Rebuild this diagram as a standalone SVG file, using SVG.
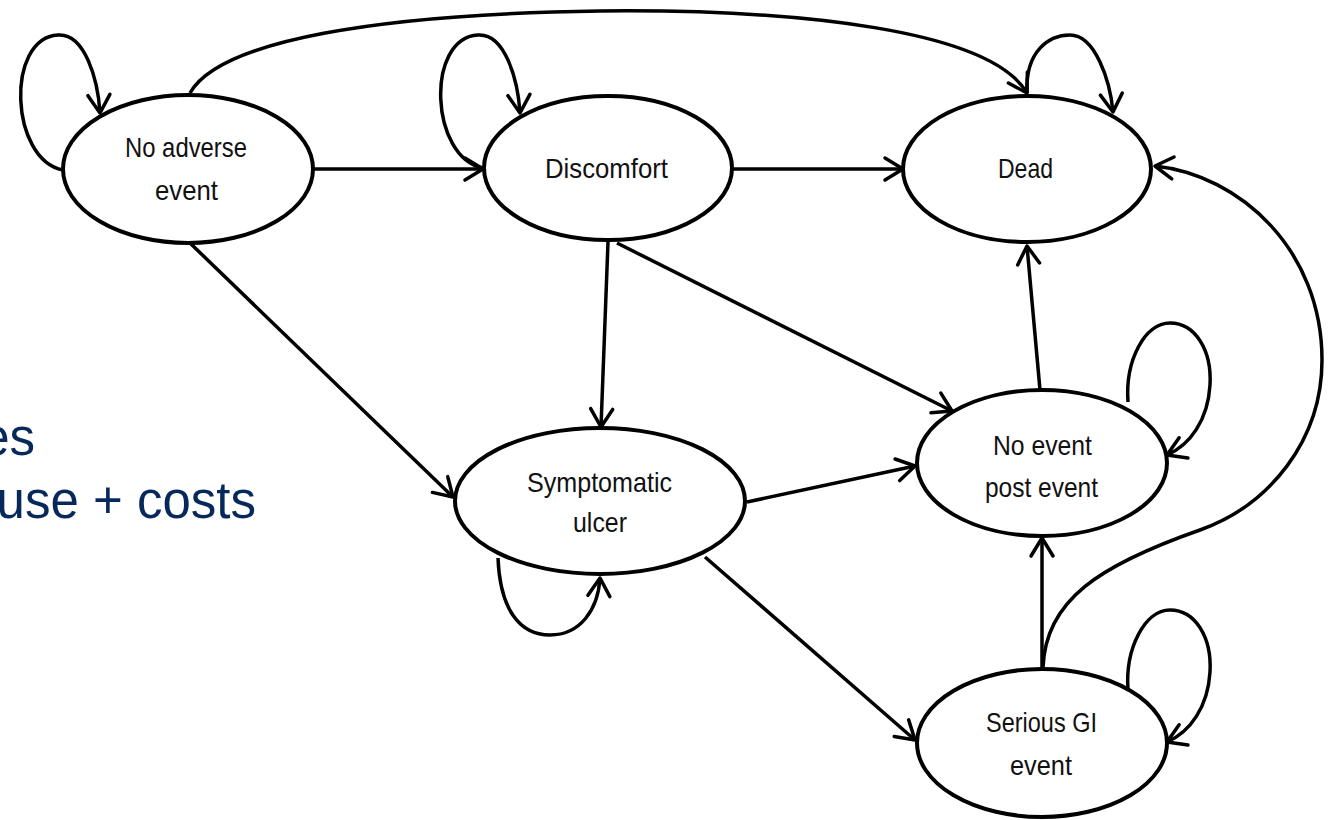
<svg xmlns="http://www.w3.org/2000/svg" width="1328" height="820" viewBox="0 0 1328 820">
<style>
.node ellipse{fill:#fff;stroke:#000;stroke-width:4}
.node text{font-family:"Liberation Sans",Arial,sans-serif;font-size:28px;fill:#111}
.conn path{fill:none;stroke:#000;stroke-width:3.5;marker-end:url(#arr)}
.side{font-family:"Liberation Sans",Arial,sans-serif;font-size:51px;fill:#06285a}
</style>
<defs>
<marker id="arr" markerUnits="userSpaceOnUse" viewBox="-22 -14 26 28" refX="0" refY="0" markerWidth="26" markerHeight="28" orient="auto">
<path d="M -18 -11 L 0 0 L -18 11" fill="none" stroke="#000" stroke-width="3.5" stroke-linecap="round" stroke-linejoin="round"/>
</marker>
</defs>
<rect width="1328" height="820" fill="#fff"/>
<text class="side" x="35" y="455" text-anchor="end">es</text>
<text class="side" x="256" y="518" text-anchor="end">use + costs</text>
<g id="connectors" class="conn">
<path d="M 63 170 C 10 160, 5 38, 58 35 C 85 33, 98 80, 100 113"/>
<path d="M 483 168 C 430 158, 425 38, 478 35 C 505 33, 518 80, 520 113"/>
<path d="M 1027 93 C 1025 50, 1050 35, 1070 35 C 1095 35, 1110 80, 1113 112"/>
<path d="M 190 93 C 220 40, 380 14, 600 11 C 800 9, 990 30, 1027 93" style="marker-end:url(#arr)"/>
<path d="M 313 169 L 483 169"/>
<path d="M 732 169 L 903 169"/>
<path d="M 190 243 L 453 497"/>
<path d="M 608 242 L 601 427"/>
<path d="M 617 243 L 952 411"/>
<path d="M 747 502 L 915 466"/>
<path d="M 705 557 L 915 740"/>
<path d="M 1040 390 L 1027 246"/>
<path d="M 1042 670 L 1042 538"/>
<path d="M 498 558 C 500 610, 520 635, 550 635 C 580 635, 598 610, 600 578"/>
<path d="M 1128 402 C 1125 360, 1145 323, 1170 323 C 1195 323, 1212 350, 1210 385 C 1208 420, 1190 445, 1167 455"/>
<path d="M 1128 690 C 1125 648, 1145 610, 1170 610 C 1195 610, 1212 637, 1210 672 C 1208 707, 1190 732, 1167 742"/>
<path d="M 1043 668 C 1045 600, 1100 565, 1200 530 C 1270 505, 1322 440, 1322 360 C 1322 250, 1240 175, 1155 166"/>
</g>
<g id="n-noadverse" class="node">
<ellipse cx="188" cy="169" rx="125" ry="74"/>
<text x="186" y="157" text-anchor="middle" textLength="122" lengthAdjust="spacingAndGlyphs">No adverse</text>
<text x="186.5" y="200" text-anchor="middle" textLength="63" lengthAdjust="spacingAndGlyphs">event</text>
</g>
<g id="n-discomfort" class="node">
<ellipse cx="608" cy="168" rx="124" ry="72"/>
<text x="606.5" y="178" text-anchor="middle" textLength="123" lengthAdjust="spacingAndGlyphs">Discomfort</text>
</g>
<g id="n-dead" class="node">
<ellipse cx="1027" cy="169" rx="124" ry="73"/>
<text x="1025.5" y="178" text-anchor="middle" textLength="55" lengthAdjust="spacingAndGlyphs">Dead</text>
</g>
<g id="n-ulcer" class="node">
<ellipse cx="600" cy="501" rx="145" ry="73"/>
<text x="599.5" y="492" text-anchor="middle" textLength="145" lengthAdjust="spacingAndGlyphs">Symptomatic</text>
<text x="600" y="532" text-anchor="middle" textLength="54" lengthAdjust="spacingAndGlyphs">ulcer</text>
</g>
<g id="n-postevent" class="node">
<ellipse cx="1042" cy="463" rx="125" ry="73"/>
<text x="1042.5" y="455" text-anchor="middle" textLength="99" lengthAdjust="spacingAndGlyphs">No event</text>
<text x="1041.5" y="497" text-anchor="middle" textLength="113" lengthAdjust="spacingAndGlyphs">post event</text>
</g>
<g id="n-serious" class="node">
<ellipse cx="1042" cy="743" rx="125" ry="74"/>
<text x="1041.5" y="732" text-anchor="middle" textLength="111" lengthAdjust="spacingAndGlyphs">Serious GI</text>
<text x="1041" y="775" text-anchor="middle" textLength="62" lengthAdjust="spacingAndGlyphs">event</text>
</g>
</svg>
